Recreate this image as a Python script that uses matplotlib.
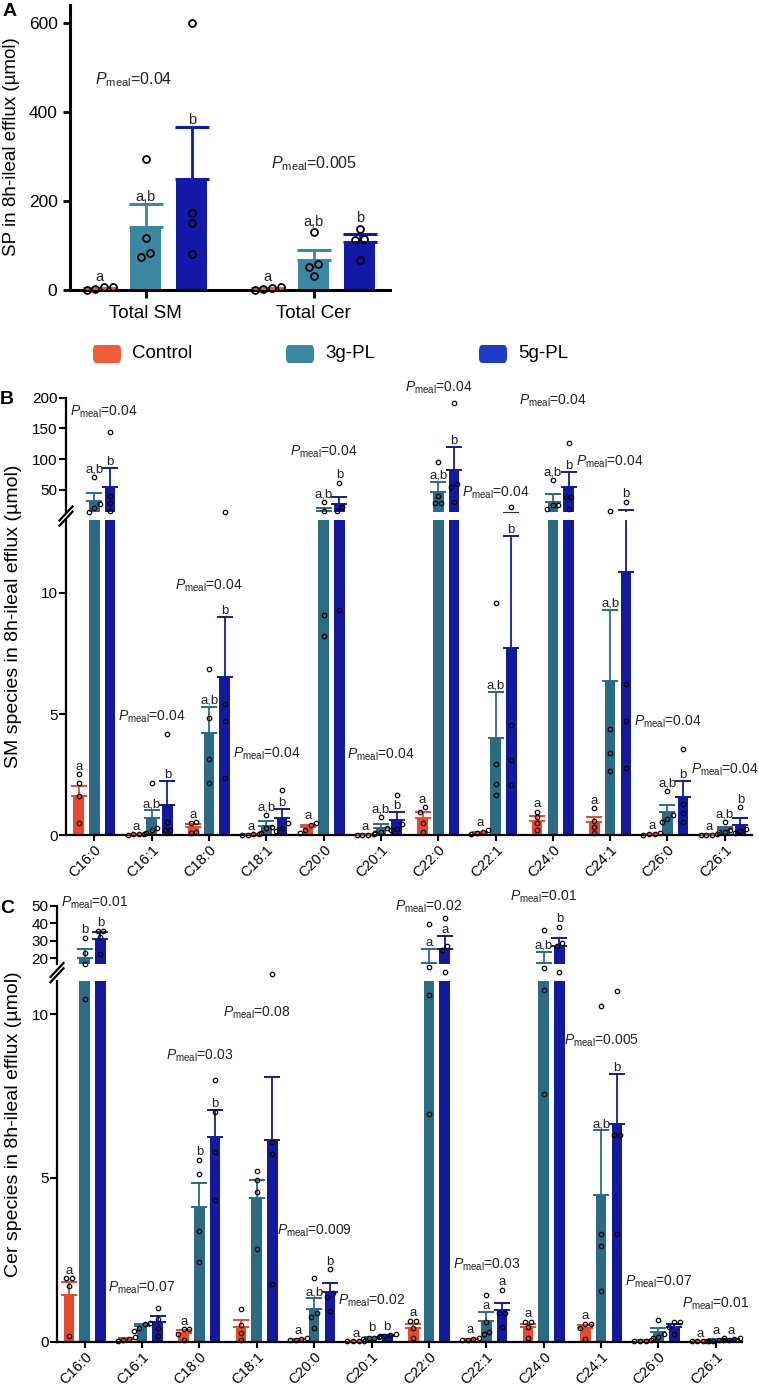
import numpy as np
import matplotlib
matplotlib.use("Agg")
import matplotlib.pyplot as plt
from matplotlib.patches import FancyBboxPatch
from matplotlib.lines import Line2D

plt.rcParams['font.family'] = ['Liberation Sans', 'DejaVu Sans']
plt.rcParams['mathtext.fontset'] = 'custom'
plt.rcParams['mathtext.rm'] = 'Liberation Sans'
plt.rcParams['mathtext.it'] = 'Liberation Sans:italic'

W, H = 759, 1386

groups = ['Control', '3g-PL', '5g-PL']

# ---- panel A: total sphingolipids (umol) ----
a_cats = ['Total SM', 'Total Cer']
a_mean = [[4, 142, 249], [3.6, 67, 108]]
a_sem = [[1.4, 52, 118], [1.3, 23, 17]]
a_pts = [
    [[0.5, 6, 3, 6], [295, 117, 84, 75], [599, 172, 150, 80]],
    [[0.5, 6, 3, 5], [130, 58, 51, 32], [138, 114, 113, 67]],
]
a_letters = [['a', 'a,b', 'b'], ['a', 'a,b', 'b']]
a_pmeal = ['0.04', '0.005']
a_pmeal_y = [473, 284]

# ---- panel B: SM species ----
species = ['C16:0', 'C16:1', 'C18:0', 'C18:1', 'C20:0', 'C20:1',
           'C22:0', 'C22:1', 'C24:0', 'C24:1', 'C26:0', 'C26:1']
sm_mean = [
    [1.6, 32.1, 55.4], [0.05, 0.7, 1.25], [0.35, 4.22, 6.53], [0.04, 0.4, 0.7],
    [0.33, 15.8, 27.2], [0.03, 0.32, 0.63], [0.7, 47.3, 82.6], [0.1, 4.03, 7.74],
    [0.6, 31.0, 54.4], [0.53, 6.36, 10.85], [0.05, 0.95, 1.56], [0.03, 0.25, 0.42],
]
sm_sem = [
    [0.43, 13.5, 31], [0.01, 0.34, 1.0], [0.12, 1.07, 2.49], [0.01, 0.19, 0.37],
    [0.1, 5.4, 11.8], [0.01, 0.15, 0.34], [0.25, 16.2, 37], [0.04, 1.88, 4.59],
    [0.18, 12.5, 25.4], [0.22, 2.94, 6.55], [0.02, 0.3, 0.69], [0.01, 0.1, 0.28],
]
sm_pts = [
    [[2.51, 2.14, 1.62, 0.52], [70.7, 27.2, 20.2, 14], [145, 40, 28, 16]],
    [[0.07, 0.05, 0.04, 0.02], [2.16, 0.31, 0.2, 0.11], [4.17, 0.53, 0.22, 0.2]],
    [[0.53, 0.52, 0.15, 0.11], [6.86, 4.84, 3.15, 2.16], [13.8, 5.4, 4.7, 2.35]],
    [[0.06, 0.04, 0.03, 0.02], [0.84, 0.35, 0.3, 0.11], [1.85, 0.5, 0.3, 0.18]],
    [[0.49, 0.42, 0.23, 0.1], [30, 15.8, 9.1, 8.2], [61.9, 21.8, 16.3, 9.3]],
    [[0.05, 0.03, 0.03, 0.02], [0.75, 0.3, 0.15, 0.1], [1.66, 0.45, 0.25, 0.2]],
    [[1.15, 0.95, 0.49, 0.15], [95, 40, 29.4, 29.4], [191, 59.8, 55.4, 30]],
    [[0.2, 0.12, 0.08, 0.05], [9.59, 2.93, 2.11, 1.66], [21.5, 4.54, 3.1, 2.07]],
    [[0.97, 0.75, 0.49, 0.2], [66.3, 25.6, 25.6, 18.6], [126, 39, 39, 18.6]],
    [[1.11, 0.6, 0.35, 0.1], [15, 4.37, 3.4, 2.66], [31, 6.25, 4.7, 2.78]],
    [[0.08, 0.05, 0.04, 0.03], [1.84, 0.85, 0.66, 0.55], [3.54, 1.28, 0.9, 0.56]],
    [[0.05, 0.03, 0.03, 0.02], [0.53, 0.2, 0.15, 0.12], [1.15, 0.25, 0.18, 0.1]],
]
sm_letters = [['a', 'a,b', 'b']] * 12
sm_pmeal = ['0.04'] * 12
sm_pmeal_y = [177, 4.88, 10.3, 3.37, 112, 3.3, 216, 45, 195, 96, 4.7, 2.69]

# ---- panel C: Cer species ----
cer_mean = [
    [1.42, 20, 31], [0.07, 0.47, 0.59], [0.26, 4.11, 6.25], [0.44, 4.38, 6.15],
    [0.07, 0.99, 1.51], [0.02, 0.12, 0.18], [0.41, 17.5, 25.3], [0.07, 0.64, 0.97],
    [0.45, 17.1, 27.0], [0.41, 4.47, 6.64], [0.03, 0.29, 0.46], [0.02, 0.05, 0.07],
]
cer_sem = [
    [0.41, 5.1, 3.9], [0.03, 0.06, 0.2], [0.1, 0.74, 0.81], [0.22, 0.57, 1.93],
    [0.02, 0.33, 0.27], [0.005, 0.02, 0.02], [0.12, 7.6, 7.6], [0.02, 0.26, 0.22],
    [0.1, 6.7, 4.8], [0.11, 1.98, 1.52], [0.01, 0.12, 0.08], [0.005, 0.02, 0.02],
]
cer_pts = [
    [[1.93, 1.93, 1.7, 0.17], [31.8, 22.9, 16.7, 10.47], [35.8, 35.8, 32, 22.5]],
    [[0.15, 0.07, 0.05, 0.02], [0.56, 0.55, 0.41, 0.33], [1.02, 0.7, 0.41, 0.18]],
    [[0.38, 0.38, 0.25, 0.05], [5.56, 5.11, 3.38, 2.44], [8.0, 7.01, 5.79, 4.32]],
    [[1.0, 0.51, 0.26, 0.05], [5.2, 4.95, 4.57, 2.82], [11.2, 6.08, 5.72, 1.76]],
    [[0.1, 0.08, 0.05, 0.04], [1.93, 0.87, 0.76, 0.41], [2.21, 1.5, 1.37, 0.95]],
    [[0.03, 0.02, 0.02, 0.01], [0.17, 0.12, 0.1, 0.09], [0.22, 0.2, 0.17, 0.14]],
    [[0.64, 0.64, 0.41, 0.1], [39.6, 15.2, 10.57, 6.94], [42.9, 27, 24.7, 12.3]],
    [[0.12, 0.08, 0.05, 0.04], [1.42, 0.6, 0.3, 0.25], [1.58, 0.87, 0.87, 0.44]],
    [[0.6, 0.6, 0.44, 0.1], [36.2, 14.6, 10.74, 7.55], [38.1, 28.9, 27, 12.0]],
    [[0.55, 0.55, 0.43, 0.07], [10.24, 3.28, 2.93, 1.56], [10.7, 6.3, 6.3, 3.3]],
    [[0.04, 0.03, 0.03, 0.02], [0.66, 0.25, 0.15, 0.1], [0.59, 0.59, 0.46, 0.24]],
    [[0.03, 0.02, 0.02, 0.01], [0.1, 0.05, 0.03, 0.02], [0.1, 0.08, 0.06, 0.04]],
]
cer_letters = [
    ['a', 'b', 'b'], ['', '', ''], ['a', 'b', 'b'], ['', '', ''],
    ['a', 'a,b', 'b'], ['a', 'b', 'b'], ['a', 'a', 'a'], ['a', 'a', 'a'],
    ['a', 'a,b', 'b'], ['a', 'a,b', 'b'], ['', '', ''], ['a', 'a', 'a'],
]
cer_pmeal = ['0.01', '0.07', '0.03', '0.08', '0.009', '0.02',
             '0.02', '0.03', '0.01', '0.005', '0.07', '0.01']
cer_pmeal_y = [51.8, 1.66, 8.73, 10.03, 3.38, 1.25, 49.1, 2.36, 55.2, 9.18, 1.83, 1.17]

colors_a = ['#EE5A30', '#3A88A2', '#1219A8']
colors_bc = ['#E9482B', '#2B6B84', '#131A9F']
colors_leg = ['#EF5E36', '#3B86A0', '#1F3BCB']

fig = plt.figure(figsize=(W / 100, H / 100), dpi=100)


def px_axes(l, t, r, b):
    return fig.add_axes([l / W, 1 - b / H, (r - l) / W, (b - t) / H])


def to_fig(xd, yd):
    return fig.transFigure.inverted().transform((xd, yd))


def swarm(ax_of, x, vals, diam):
    ys = np.array([ax_of(v).transData.transform((x, v))[1] for v in vals])
    ax0 = ax_of(vals[0])
    unit = ax0.transData.transform((1, 0))[0] - ax0.transData.transform((0, 0))[0]
    order = np.argsort(ys)
    xs = np.full(len(vals), float(x))
    clusters, cur = [], [order[0]]
    for i in order[1:]:
        if ys[i] - ys[cur[-1]] < diam * 0.95:
            cur.append(i)
        else:
            clusters.append(cur)
            cur = [i]
    clusters.append(cur)
    for cl in clusters:
        n = len(cl)
        for k, i in enumerate(cl):
            xs[i] = x + (k - (n - 1) / 2) * diam * 1.05 / unit
    return xs


def letter(ax_of, x, cap, pts, text, fs, diam):
    if not text:
        return
    disp = lambda v: ax_of(v).transData.transform((x, v))
    base = disp(cap)[1] + 3
    h = fs * 100 / 72 * 0.75
    ys = sorted(disp(v)[1] for v in pts)
    moved = True
    while moved:
        moved = False
        for y in ys:
            if base - diam / 2 - 1 < y < base + h + diam / 2:
                base = y + diam / 2 + 2
                moved = True
    xf, yf = to_fig(disp(cap)[0], base)
    fig.text(xf, yf, text, ha='center', va='baseline', fontsize=fs, color='#222222')


def draw_groups(axes, ax_of, cats, means, sems, pts, letters, colors, off, width,
                ms, mew, elw, capsize, capthick, fs_letter):
    diam = ms * 100 / 72 + mew
    for i in range(len(cats)):
        for g in range(3):
            x = i + (g - 1) * off
            m, s = means[i][g], sems[i][g]
            for ax in axes:
                ax.bar(x, m, width, color=colors[g], zorder=2)
                ax.errorbar(x, m, yerr=[[0], [s]], fmt='none', ecolor=colors[g],
                            elinewidth=elw, capsize=capsize, capthick=capthick, zorder=3)
            xs = swarm(ax_of, x, pts[i][g], diam)
            for xx, v in zip(xs, pts[i][g]):
                ax_of(v).plot(xx, v, 'o', mfc='none', mec='black', ms=ms, mew=mew,
                              clip_on=False, zorder=5)
            letter(ax_of, x, m + s, pts[i][g], letters[i][g], fs_letter, diam)


def pmeal_text(ax, x, y, val, fs):
    ax.text(x, y, r'$P_{\mathrm{meal}}$=' + val, ha='center', va='center',
            fontsize=fs, color='#222222')


# ================= panel A =================
axA = px_axes(70, 4.9, 390, 290)
axA.set_xlim(-0.4506, 1.454)
axA.set_ylim(0, 640)
draw_groups([axA], lambda v: axA, a_cats, a_mean, a_sem, a_pts, a_letters, colors_a,
            0.274, 0.185, 5, 1.3, 2.0, 12.5, 2.2, 10.5)
for i in range(2):
    pmeal_text(axA, i + (-0.07 if i == 0 else 0.0), a_pmeal_y[i], a_pmeal[i], 11.5)
axA.set_yticks([0, 200, 400, 600])
axA.set_xticks(range(2))
axA.set_xticklabels(a_cats, fontsize=13.5)
axA.tick_params(axis='y', labelsize=12.5, width=2, length=5, pad=4)
axA.tick_params(axis='x', width=2, length=6, pad=5)
for sp in ['top', 'right']:
    axA.spines[sp].set_visible(False)
for sp in ['left', 'bottom']:
    axA.spines[sp].set_linewidth(2.2)
fig.text(12 / W, 1 - 147 / H, 'SP in 8h-ileal efflux (µmol)', rotation=90,
         ha='center', va='center', fontsize=13.5)
fig.text(3 / W, 1 - 3 / H, 'A', ha='left', va='top', fontsize=14, fontweight='bold')

# legend
for g in range(3):
    x0 = 93 + g * 193
    box = FancyBboxPatch(((x0) / W, 1 - 363 / H), 28 / W, 18 / H,
                         boxstyle='round,pad=0,rounding_size=0.004',
                         transform=fig.transFigure, facecolor=colors_leg[g],
                         edgecolor='none')
    fig.add_artist(box)
    fig.text((x0 + 39) / W, 1 - 354 / H, groups[g], ha='left', va='center', fontsize=13.5)


# ================= broken panels B and C =================
def broken_panel(l, r, t_hi, b_hi, t_lo, b_lo, lo_lim, hi_lim, xlim, hi_ticks, lo_ticks,
                 means, sems, pts, letters, pm, pm_y, ylabel, lab, lab_y):
    ax_hi = px_axes(l, t_hi, r, b_hi)
    ax_lo = px_axes(l, t_lo, r, b_lo)
    for ax in (ax_hi, ax_lo):
        ax.set_xlim(*xlim)
        ax.spines['top'].set_visible(False)
        ax.spines['right'].set_visible(False)
        ax.spines['left'].set_linewidth(1.6)
        ax.tick_params(axis='y', labelsize=11, width=1.5, length=5, pad=1)
    ax_hi.set_ylim(*hi_lim)
    ax_lo.set_ylim(*lo_lim)
    ax_hi.spines['bottom'].set_visible(False)
    ax_hi.set_xticks([])
    ax_lo.spines['bottom'].set_linewidth(1.6)
    ax_hi.set_yticks(hi_ticks)
    ax_lo.set_yticks(lo_ticks)
    ax_lo.set_xticks(range(len(species)))
    ax_lo.set_xticklabels(species, rotation=45, ha='right', rotation_mode='anchor',
                          fontsize=10.5)
    ax_lo.tick_params(axis='x', width=1.5, length=4.5, pad=1)
    lo_max = lo_lim[1]
    ax_of = lambda v: ax_hi if v > lo_max else ax_lo
    draw_groups([ax_hi, ax_lo], ax_of, species, means, sems, pts, letters, colors_bc,
                0.274, 0.185, 3.2, 0.9, 1.3, 5.8, 1.4, 9.5)
    for i in range(len(species)):
        pmeal_text(ax_of(pm_y[i]), i + (0.17 if i == 0 else 0.0), pm_y[i], pm[i], 10)
    # break marks on the y axis
    mid = (b_hi + t_lo) / 2
    for d in (-2.6, 2.6):
        x0, y0 = to_fig(l - 6.5, H - (mid + 7 + d))
        x1, y1 = to_fig(l + 6.5, H - (mid - 7 + d))
        fig.add_artist(Line2D([x0, x1], [y0, y1], transform=fig.transFigure,
                              color='black', lw=1.6))
    fig.text(14 / W, 1 - (t_hi + b_lo) / 2 / H, ylabel, rotation=90,
             ha='center', va='center', fontsize=14)
    fig.text(0, 1 - lab_y / H, lab, ha='left', va='top', fontsize=14, fontweight='bold')


broken_panel(66, 751.7, 397.7, 512.1, 520, 835.3, (0, 13), (14, 200), (-0.497, 11.47),
             [50, 100, 150, 200], [0, 5, 10],
             sm_mean, sm_sem, sm_pts, sm_letters, sm_pmeal, sm_pmeal_y,
             'SM species in 8h-ileal efflux (µmol)', 'B', 391)

broken_panel(57, 741.7, 905.7, 964, 981.3, 1341.7, (0, 11), (16.7, 50), (-0.481, 11.45),
             [20, 30, 40, 50], [0, 5, 10],
             cer_mean, cer_sem, cer_pts, cer_letters, cer_pmeal, cer_pmeal_y,
             'Cer species in 8h-ileal efflux (µmol)', 'C', 900)

fig.savefig('out.png', dpi=100)
